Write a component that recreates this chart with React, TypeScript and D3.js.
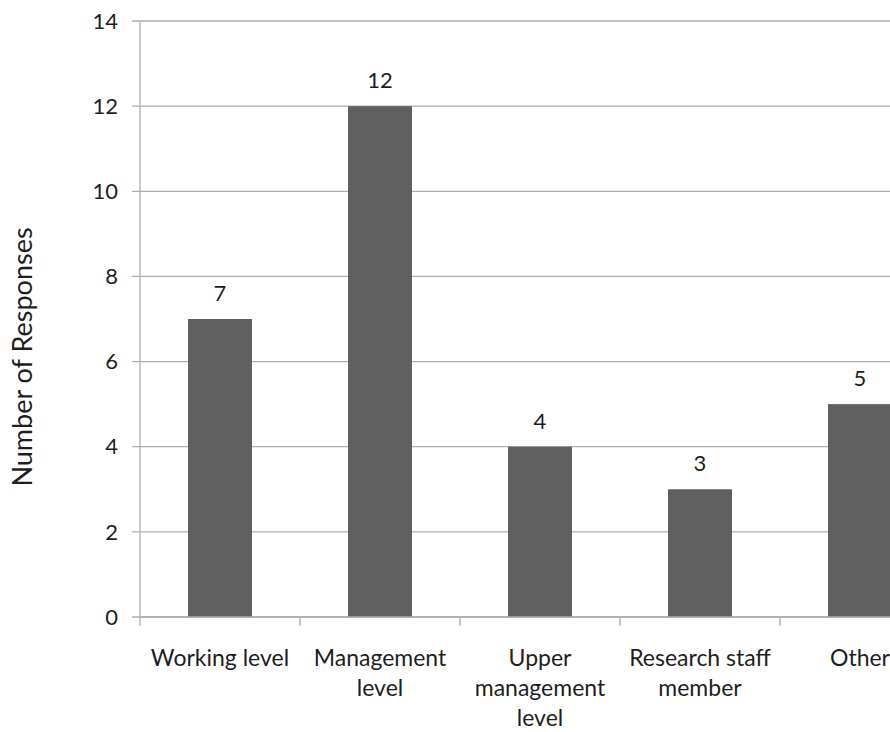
import React, { useLayoutEffect, useMemo } from "react";
import * as d3 from "d3";

// Survey responses by role
const categories = [
  "Working level",
  "Management level",
  "Upper management level",
  "Research staff member",
  "Other",
];
const responses = [7, 12, 4, 3, 5];
const yTicks = [0, 2, 4, 6, 8, 10, 12, 14];
const yTitle = "Number of Responses";

const W = 890;
const H = 732;
const FONT = "Lato, 'Open Sans', sans-serif";
const FS_TICK = 22;
const FS_CAT = 23;
const FS_TITLE = 27;
const TEXT = "#1e1e1e";
const BAR = "#606060";
const GRID = "#adadad";

// Greedy word wrap using canvas text metrics
function wrapLabel(label: string, maxWidth: number): string[] {
  const canvas = document.createElement("canvas");
  const ctx = canvas.getContext("2d")!;
  ctx.font = `${FS_CAT}px ${FONT}`;
  const words = label.split(" ");
  const lines: string[] = [];
  let line = "";
  for (const w of words) {
    const test = line ? `${line} ${w}` : w;
    if (line && ctx.measureText(test).width > maxWidth) {
      lines.push(line);
      line = w;
    } else {
      line = test;
    }
  }
  if (line) lines.push(line);
  return lines;
}

export default function App() {
  useLayoutEffect(() => {
    document.body.style.margin = "0";
  }, []);

  const x = d3
    .scaleBand<string>()
    .domain(categories)
    .range([140, 940])
    .paddingInner(0.6)
    .paddingOuter(0.3);
  const y = d3.scaleLinear().domain([0, 14]).range([617, 21]);

  const [x0] = x.range();
  const step = x.step();
  const boundaries = d3.range(categories.length + 1).map((i) => x0 + i * step);
  const wrapped = useMemo(() => categories.map((c) => wrapLabel(c, 152)), []);

  return (
    <svg width={W} height={H} style={{ display: "block", background: "#fff" }} fontFamily={FONT}>
      {/* horizontal gridlines with left tick marks */}
      {yTicks.map((t) => (
        <line key={`g${t}`} x1={132} x2={W} y1={y(t)} y2={y(t)} stroke={GRID} strokeWidth={1.3} />
      ))}
      {/* value axis */}
      <line x1={x0} x2={x0} y1={y(14)} y2={y(0)} stroke={GRID} strokeWidth={1.3} />
      {yTicks.map((t) => (
        <text key={`t${t}`} x={118} y={y(t)} dy="0.35em" textAnchor="end" fontSize={FS_TICK} fill={TEXT}>
          {t}
        </text>
      ))}
      <text
        transform={`translate(32,357) rotate(-90)`}
        textAnchor="middle"
        fontSize={FS_TITLE}
        fill={TEXT}
      >
        {yTitle}
      </text>

      {/* bars */}
      {categories.map((c, i) => (
        <rect key={c} x={x(c)} y={y(responses[i])} width={x.bandwidth()} height={y(0) - y(responses[i])} fill={BAR} />
      ))}
      {categories.map((c, i) => (
        <text
          key={`v${c}`}
          x={x(c)! + x.bandwidth() / 2}
          y={y(responses[i]) - 18}
          textAnchor="middle"
          fontSize={FS_TICK}
          fill={TEXT}
        >
          {responses[i]}
        </text>
      ))}

      {/* category axis */}
      <line x1={x0} x2={W} y1={y(0)} y2={y(0)} stroke={GRID} strokeWidth={1.3} />
      {boundaries.map((b) => (
        <line key={`b${b}`} x1={b} x2={b} y1={y(0)} y2={y(0) + 9} stroke={GRID} strokeWidth={1.3} />
      ))}
      {categories.map((c, i) => (
        <text key={`c${c}`} x={x(c)! + x.bandwidth() / 2} y={666} textAnchor="middle" fontSize={FS_CAT} fill={TEXT}>
          {wrapped[i].map((ln, j) => (
            <tspan key={j} x={x(c)! + x.bandwidth() / 2} dy={j === 0 ? 0 : 30}>
              {ln}
            </tspan>
          ))}
        </text>
      ))}
    </svg>
  );
}
